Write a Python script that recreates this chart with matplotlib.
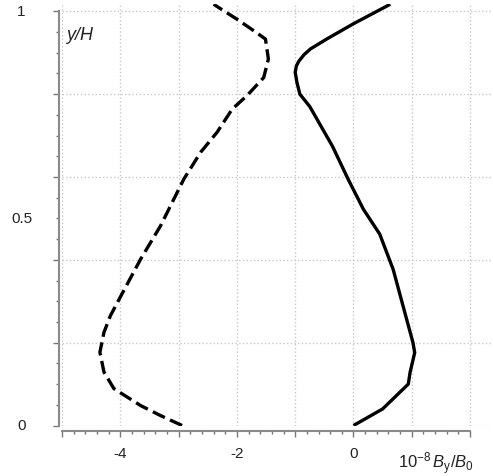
import matplotlib
matplotlib.use('Agg')
import numpy as np
import matplotlib.pyplot as plt
from matplotlib.ticker import MultipleLocator, FixedLocator, FuncFormatter
from matplotlib.transforms import blended_transform_factory

plt.rcParams['font.family'] = ['Liberation Sans', 'DejaVu Sans']
plt.rcParams['mathtext.fontset'] = 'custom'
plt.rcParams['mathtext.rm'] = 'Liberation Sans'
plt.rcParams['mathtext.it'] = 'Liberation Sans:italic'
plt.rcParams['axes.unicode_minus'] = False

# data
solid_x = [0.0, 0.5, 0.94, 0.97, 1.05, 1.02, 0.68, 0.45, 0.17, -0.09, -0.36,
           -0.75, -0.92, -0.97, -1.0, -0.98, -0.94, -0.85, -0.74, -0.46, 0.0, 0.63]
solid_y = [0.0, 0.04, 0.10, 0.128, 0.176, 0.20, 0.377, 0.462, 0.522, 0.594, 0.674,
           0.77, 0.80, 0.828, 0.853, 0.868, 0.879, 0.895, 0.909, 0.933, 0.97, 1.017]
dash_x = [-2.94, -3.31, -3.65, -4.11, -4.28, -4.35, -4.28, -4.17, -3.97, -3.65,
          -3.31, -3.08, -2.91, -2.62, -2.34, -2.08, -1.83, -1.54, -1.46, -1.51,
          -1.71, -2.0, -2.4]
dash_y = [0.0, 0.024, 0.048, 0.089, 0.129, 0.177, 0.225, 0.265, 0.318, 0.402,
          0.482, 0.547, 0.595, 0.66, 0.708, 0.764, 0.796, 0.84, 0.885, 0.933,
          0.953, 0.981, 1.017]
x_labels = {-4: '-4', -2: '-2', 0: '0'}
y_labels = {0.0: '0', 0.5: '0.5', 1.0: '1'}

W, H = 493, 477
fig = plt.figure(figsize=(W / 100, H / 100), dpi=100)
ax = fig.add_axes([62 / W, (H - 426.5) / H, 430 / W, (426.5 - 5) / H])
ax.set_xlim(-5, -5 + 430 / 58.3)
ax.set_ylim(0, (426.5 - 5) / 414.2)

ax.plot(solid_x, solid_y, color='black', lw=2.4,
        solid_capstyle='butt', solid_joinstyle='round')
ax.plot(dash_x, dash_y, color='black', lw=2.4, ls=(0, (4, 1.7)),
        dash_capstyle='butt')

ax.xaxis.set_major_locator(MultipleLocator(1))
ax.xaxis.set_minor_locator(FixedLocator(np.arange(-5, 2.01, 0.2)))
ax.yaxis.set_major_locator(MultipleLocator(0.2))
ax.yaxis.set_minor_locator(FixedLocator(np.arange(0, 1.001, 0.05)))
ax.xaxis.set_major_formatter(FuncFormatter(
    lambda v, p: x_labels.get(int(round(v)), '') if abs(v - round(v)) < 1e-6 else ''))
ax.yaxis.set_major_formatter(FuncFormatter(lambda v, p: ''))

ax.grid(True, which='major', color='#c8c8c8', ls=':', lw=1.0)
ax.set_axisbelow(True)

for s in ['top', 'right']:
    ax.spines[s].set_visible(False)
ax.spines['left'].set_position(('outward', 2.2))
ax.spines['left'].set_bounds(0, 1)
ax.spines['bottom'].set_position(('outward', 4))
ax.spines['bottom'].set_bounds(-5, 2)
for s in ['left', 'bottom']:
    ax.spines[s].set_color('#8a8a8a')
    ax.spines[s].set_linewidth(1.5)

ax.tick_params(which='major', direction='out', length=4.5, width=1,
               color='#777777', labelsize=11, labelcolor='#222222')
ax.tick_params(which='minor', direction='out', length=2.2, width=1,
               color='#777777')
ax.tick_params(axis='x', which='major', pad=6)

tr = blended_transform_factory(fig.transFigure, ax.transData)
for v, lab in y_labels.items():
    ax.text(21.5 / W, v, lab, transform=tr, ha='center', va='center',
            fontsize=11, color='#222222')

fig.text(474 / W, (H - 469) / H, r'$10^{-8}\,B_\mathrm{y}/B_0$', ha='right',
         va='baseline', fontsize=12, color='#222222')
fig.text(66 / W, (H - 40) / H, 'y/H', style='italic', ha='left', va='baseline',
         fontsize=13, color='#222222')

fig.savefig('out.png', dpi=100)
